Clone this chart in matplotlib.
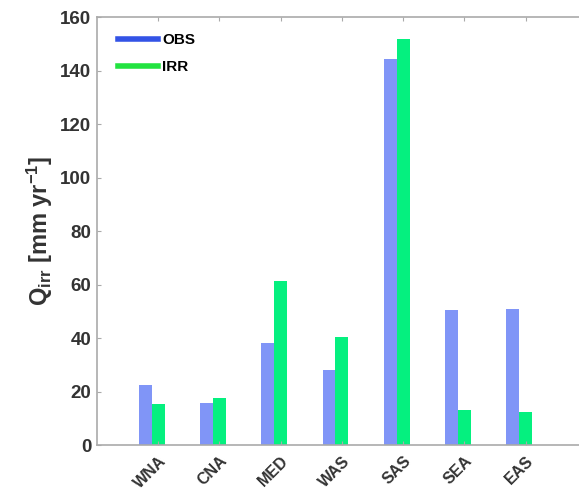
import matplotlib
matplotlib.use('Agg')
import matplotlib.pyplot as plt
import numpy as np

regions = ['WNA', 'CNA', 'MED', 'WAS', 'SAS', 'SEA', 'EAS']
obs = [22.4, 15.8, 38.0, 28.0, 144.5, 50.5, 50.7]
irr = [15.3, 17.7, 61.4, 40.5, 151.7, 13.0, 12.2]

plt.rcParams['font.family'] = ['Liberation Sans', 'DejaVu Sans']
plt.rcParams['font.weight'] = 'bold'
plt.rcParams['mathtext.fontset'] = 'custom'
plt.rcParams['mathtext.rm'] = 'Liberation Sans:bold'
plt.rcParams['mathtext.it'] = 'Liberation Sans:bold'
plt.rcParams['mathtext.bf'] = 'Liberation Sans:bold'

fig = plt.figure(figsize=(5.79, 4.97), dpi=100)
ax = fig.add_axes([0.1675, 0.1046, 0.846, 0.861])

x = np.arange(1, len(regions) + 1)
w = 0.21
ax.bar(x - w, obs, width=w, align='center', color='#8095f7', edgecolor='none')
ax.bar(x, irr, width=w, align='center', color='#05f07f', edgecolor='none')

# legend uses thick lines like the original
ax.plot([], [], color='#3353e6', lw=4, label='OBS')
ax.plot([], [], color='#22e340', lw=4, label='IRR')
ax.legend(loc='upper left', frameon=False, fontsize=11, handlelength=2.6,
          handletextpad=0.3, labelspacing=0.85,
          bbox_to_anchor=(0.015, 0.995))

ax.set_xlim(0, 8)
ax.set_ylim(0, 160)
ax.set_yticks(np.arange(0, 161, 20))
ax.set_xticks(x)
ax.set_xticklabels(regions, rotation=45, ha='right', rotation_mode='anchor',
                   fontsize=11.5, color='#333333')
ax.tick_params(axis='y', labelsize=13.5, direction='in', length=3,
               color='#aaaaaa', labelcolor='#333333', pad=4)
ax.tick_params(axis='x', direction='in', length=0, pad=6, top=True)
ax.tick_params(axis='x', which='major', top=True, length=3, color='#aaaaaa')
ax.set_ylabel(r'Q$_{\mathrm{irr}}$ [mm yr$^{\mathrm{-1}}$]', fontsize=17,
              fontweight='bold', color='#333333', labelpad=4)

for s in ['left', 'top', 'bottom']:
    ax.spines[s].set_color('#aaaaaa')
    ax.spines[s].set_linewidth(1.2)
ax.spines['right'].set_visible(False)

fig.savefig('out.png', dpi=100)
